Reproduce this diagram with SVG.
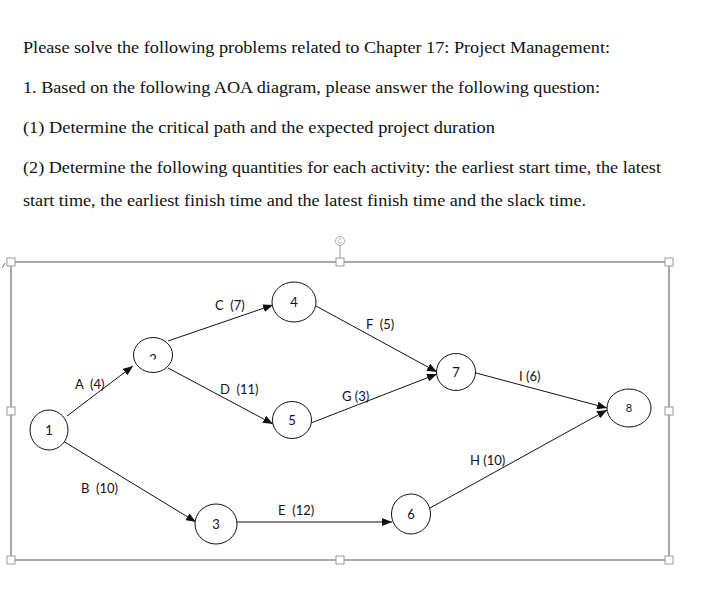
<svg xmlns="http://www.w3.org/2000/svg" width="718" height="600" viewBox="0 0 718 600">
<defs>
<style>
.q{font-family:"Liberation Serif","Times New Roman",serif;font-size:17px;fill:#111}
.node ellipse{fill:#fff;stroke:#111;stroke-width:1}
.nl{font-family:Lato,"Open Sans",sans-serif;font-size:13px;fill:#111;text-anchor:middle}
.el{font-family:Lato,"Open Sans",sans-serif;font-size:13px;fill:#111;white-space:pre}
.conn line{stroke:#111;stroke-width:1}
.frame{fill:none;stroke:#555;stroke-width:1}
.h{fill:#fff;stroke:#999;stroke-width:1}
</style>
<marker id="ah" viewBox="0 0 10 8" refX="10" refY="4" markerWidth="10" markerHeight="8" markerUnits="userSpaceOnUse" orient="auto">
<path d="M0,0 L10,4 L0,8 Z" fill="#111"/>
</marker>
<clipPath id="c2"><rect x="140" y="340" width="30" height="19.5"/></clipPath>
</defs>
<rect width="718" height="600" fill="#fff"/>

<g id="question">
<text class="q" x="23" y="52.5" textLength="587" lengthAdjust="spacingAndGlyphs">Please solve the following problems related to Chapter 17: Project Management:</text>
<text class="q" x="23" y="93" textLength="577" lengthAdjust="spacingAndGlyphs">1. Based on the following AOA diagram, please answer the following question:</text>
<text class="q" x="23" y="133" textLength="472" lengthAdjust="spacingAndGlyphs">(1) Determine the critical path and the expected project duration</text>
<text class="q" x="23" y="172.5" textLength="638" lengthAdjust="spacingAndGlyphs">(2) Determine the following quantities for each activity: the earliest start time, the latest</text>
<text class="q" x="23" y="205.5" textLength="563" lengthAdjust="spacingAndGlyphs">start time, the earliest finish time and the latest finish time and the slack time.</text>
</g>

<g id="selection-frame">
<path d="M5,263 L2,268" stroke="#777" stroke-width="1" fill="none"/>
<rect class="frame" x="11" y="262" width="658" height="298"/>
<line x1="340" y1="246" x2="340" y2="258" stroke="#999" stroke-width="1"/>
<circle cx="340" cy="241" r="4.5" fill="#fff" stroke="#aaa" stroke-width="1"/>
<path d="M342,239.3 A2.3,2.3 0 1 0 342.3,242.5" fill="none" stroke="#aaa" stroke-width="0.8"/>
<rect class="h" x="7" y="258" width="8" height="8"/>
<rect class="h" x="336" y="258" width="8" height="8"/>
<rect class="h" x="665" y="258" width="8" height="8"/>
<rect class="h" x="7" y="407" width="8" height="8"/>
<rect class="h" x="665" y="407" width="8" height="8"/>
<rect class="h" x="7" y="556" width="8" height="8"/>
<rect class="h" x="336" y="556" width="8" height="8"/>
<rect class="h" x="665" y="556" width="8" height="8"/>
</g>

<g id="connectors" class="conn">
<line x1="67" y1="416" x2="133" y2="366" marker-end="url(#ah)"/>
<line x1="63" y1="441" x2="196" y2="522" marker-end="url(#ah)"/>
<line x1="168" y1="341" x2="273" y2="305" marker-end="url(#ah)"/>
<line x1="168" y1="368" x2="273" y2="424" marker-end="url(#ah)"/>
<line x1="237" y1="522" x2="392" y2="522" marker-end="url(#ah)"/>
<line x1="316" y1="306" x2="437" y2="372" marker-end="url(#ah)"/>
<line x1="311" y1="423" x2="437" y2="374" marker-end="url(#ah)"/>
<line x1="430" y1="508" x2="607" y2="410" marker-end="url(#ah)"/>
<line x1="476" y1="373" x2="607" y2="408" marker-end="url(#ah)"/>
<text class="el" x="75" y="389" xml:space="preserve">A  (4)</text>
<text class="el" x="81" y="493" xml:space="preserve">B  (10)</text>
<text class="el" x="215" y="310" xml:space="preserve">C  (7)</text>
<text class="el" x="220" y="394" xml:space="preserve">D  (11)</text>
<text class="el" x="278" y="515" xml:space="preserve">E  (12)</text>
<text class="el" x="366" y="329" xml:space="preserve">F  (5)</text>
<text class="el" x="342" y="401">G (3)</text>
<text class="el" x="470" y="465">H (10)</text>
<text class="el" x="519" y="381">I (6)</text>
</g>

<g id="n1" class="node"><ellipse cx="49" cy="430" rx="19" ry="20"/><text class="nl" x="49" y="435">1</text></g>
<g id="n2" class="node"><ellipse cx="153" cy="355" rx="19.5" ry="17.5"/><text class="nl" x="153" y="363.5" clip-path="url(#c2)">2</text></g>
<g id="n3" class="node"><ellipse cx="216" cy="524" rx="21" ry="20"/><text class="nl" x="216" y="529">3</text></g>
<g id="n4" class="node"><ellipse cx="294" cy="302" rx="22" ry="20"/><text class="nl" x="294" y="307">4</text></g>
<g id="n5" class="node"><ellipse cx="292" cy="420" rx="19.5" ry="18.5"/><text class="nl" x="292" y="425">5</text></g>
<g id="n6" class="node"><ellipse cx="411" cy="514" rx="19.5" ry="20"/><text class="nl" x="411" y="519">6</text></g>
<g id="n7" class="node"><ellipse cx="456" cy="372" rx="19.5" ry="18.5"/><text class="nl" x="456" y="377">7</text></g>
<g id="n8" class="node"><ellipse cx="629" cy="408" rx="22" ry="19"/><text class="nl" x="629" y="412" style="font-size:11px">8</text></g>
</svg>
